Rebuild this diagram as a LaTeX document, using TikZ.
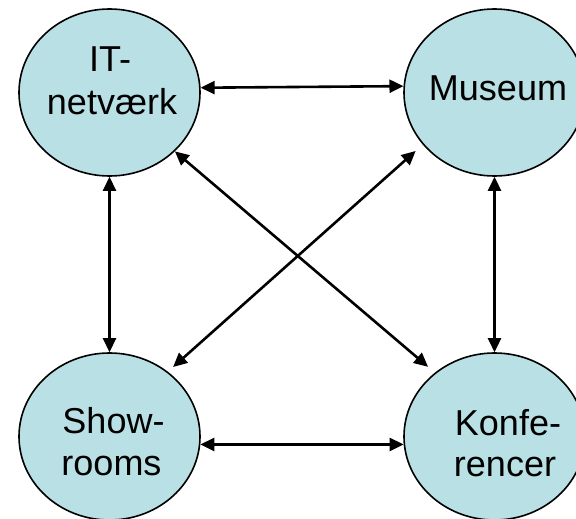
\documentclass[tikz,border=0pt]{standalone}
\usepackage{fontspec}
\setmainfont{Liberation Sans}
\usetikzlibrary{arrows.meta,shapes.geometric}
\definecolor{bubble}{RGB}{185,224,228}
\begin{document}
\begin{tikzpicture}[x=1pt,y=-1pt,
  bub/.style={ellipse,draw=black,line width=1.6pt,fill=bubble,minimum width=181pt,minimum height=167pt,inner sep=0pt},
  lbl/.style={anchor=base,inner sep=0pt,font=\fontsize{36}{43}\selectfont},
  link/.style={line width=2.6pt,{Triangle[length=14pt,width=13pt]}-{Triangle[length=14pt,width=13pt]}}]
\useasboundingbox (0,0) rectangle (576,519);
\node[bub] (it) at (109.5,92.5) {};
\node[bub] (mu) at (494.5,92.5) {};
\node[bub] (sr) at (109.5,436.5) {};
\node[bub] (kf) at (494.5,436.5) {};
\node[lbl] (it1) at (110,71) {IT-};
\node[lbl] (it2) at (112,114) {netværk};
\node[lbl] (mu1) at (498,101) {Museum};
\node[lbl] (sr1) at (113.5,433) {Show-};
\node[lbl] (sr2) at (111.5,475) {rooms};
\node[lbl] (kf1) at (508,435) {Konfe-};
\node[lbl] (kf2) at (505,476) {rencer};
\draw[link] (it.3.5) -- (mu.176.5);
\draw[link] (sr.-5.4) -- (kf.185.4);
\draw[link] (it.south) -- (sr.north);
\draw[link] (mu.south) -- (kf.north);
\draw[link,shorten >=9pt] (it.-42.3) -- (kf.133.3);
\draw[link,shorten <=9.5pt,shorten >=7pt] (mu.216.2) -- (sr.48);
\end{tikzpicture}
\end{document}
